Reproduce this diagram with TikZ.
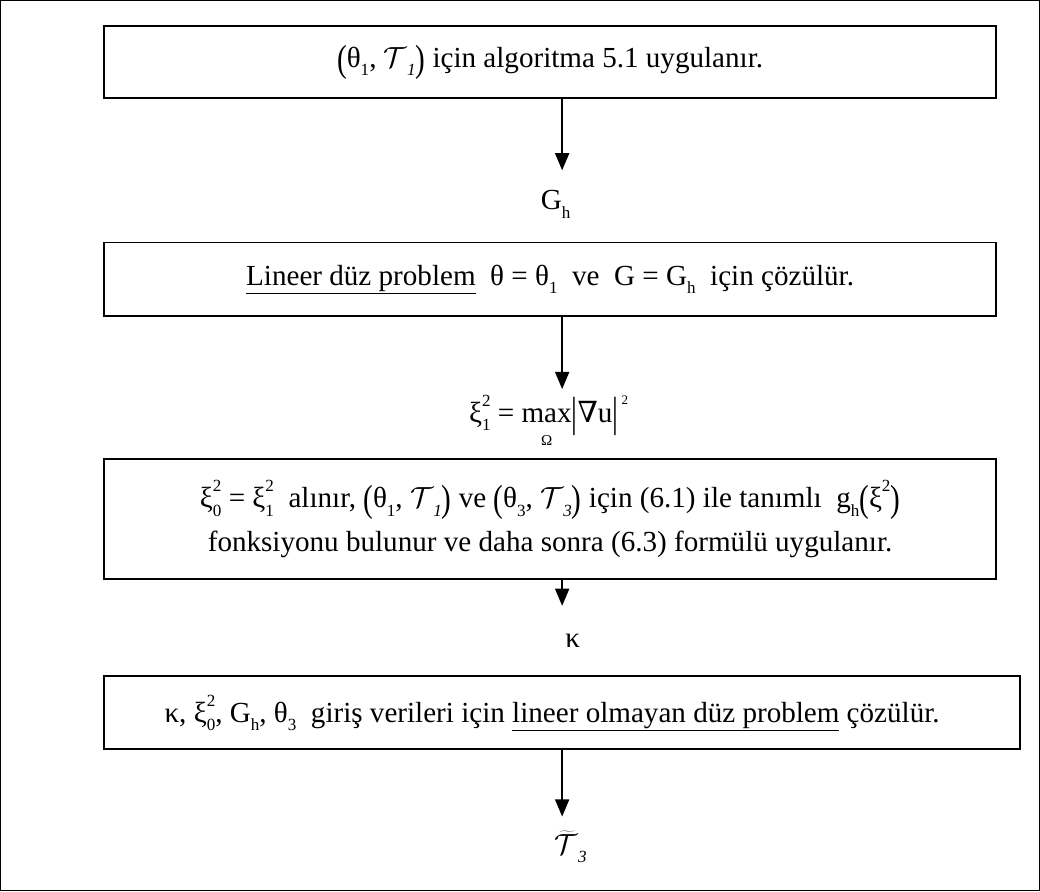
\RequirePackage{fix-cm}
\documentclass[tikz,border=0pt]{standalone}
\usepackage{fontspec}
\setmainfont{Liberation Serif}
\newfontfamily\nablafont{DejaVu Serif}
\usepackage{graphicx}
\usetikzlibrary{arrows.meta}

\newcommand{\bpar}[1]{\raisebox{-0.12em}{\scalebox{1}[1.3]{(}}#1\raisebox{-0.12em}{\scalebox{1}[1.3]{)}}}
\newcommand{\lo}[1]{\raisebox{-0.28em}{\fontsize{17}{17}\selectfont #1}}
\newcommand{\hi}[1]{\raisebox{0.55em}{\fontsize{17}{17}\selectfont #1}}
\newcommand{\hilo}[2]{\rlap{\hi{#1}}\lo{#2}}
\newcommand{\tcal}[1]{$\mathcal{T}$\lo{\textit{#1}}}
\newcommand{\bbar}{\raisebox{-0.15em}{\scalebox{1}[1.45]{|}}}

\begin{document}
\begin{tikzpicture}[x=1pt,y=-1pt,>={Triangle[length=17pt,width=14pt]},
  font=\fontsize{29}{43}\selectfont,
  box/.style={draw,line width=1.6pt,minimum width=889pt,align=center,inner sep=0pt},
  lbl/.style={inner sep=0pt},
  flow/.style={->,line width=1.4pt}]
\draw[line width=1.4pt] (2,2) rectangle (1037,889);
% boxes
\node[box,minimum height=72pt] (b1) at (549.5,63) {\bpar{θ\lo{1}, \tcal{1}} için algoritma 5.1 uygulanır.};
\node[box,minimum height=73pt] (b2) at (549.5,279.5) {\underline{Lineer düz problem}\ \ θ = θ\lo{1}\ \ ve\ \ G = G\lo{h}\ \ için çözülür.};
\node[box,minimum height=119pt] (b3) at (549.5,518.5) {ξ\hilo{2}{0} = ξ\hilo{2}{1}\ \ alınır, \bpar{θ\lo{1}, \tcal{1}} ve \bpar{θ\lo{3}, \tcal{3}} için (6.1) ile tanımlı\ \ g\lo{h}\bpar{ξ\hi{2}}\\
  fonksiyonu bulunur ve daha sonra (6.3) formülü uygulanır.};
\node[box,minimum width=913pt,minimum height=73pt] (b4) at (561.5,711.5) {κ, ξ\hilo{2}{0}, G\lo{h}, θ\lo{3}\ \ giriş verileri için \underline{lineer olmayan düz problem} çözülür.\hspace{20pt}};
% results
\node[lbl] (gh) at (555,205) {G\lo{h}};
\node[lbl] (xi) at (548,425) {ξ\hilo{2}{1} = \begin{tabular}[t]{@{}c@{}}max\\[-0.7em]{\fontsize{15}{15}\selectfont Ω}\end{tabular}\bbar{\nablafont ∇}u\bbar\raisebox{0.6em}{\fontsize{13}{13}\selectfont\ 2}};
\node[lbl] (ka) at (572,640) {κ};
\node[lbl] (tt) at (570,845) {$\widetilde{\mathcal{T}}$\lo{\textit{3}}};
% arrows
\coordinate (t1) at (561.5,171);
\coordinate (t2) at (561.5,389);
\coordinate (t3) at (561.5,605);
\coordinate (t4) at (561.5,815);
\draw[flow] (b1.south -| t1) -- (t1);
\draw[flow] (b2.south -| t2) -- (t2);
\draw[flow] (b3.south -| t3) -- (t3);
\draw[flow] (b4.south -| t4) -- (t4);
\end{tikzpicture}
\end{document}
